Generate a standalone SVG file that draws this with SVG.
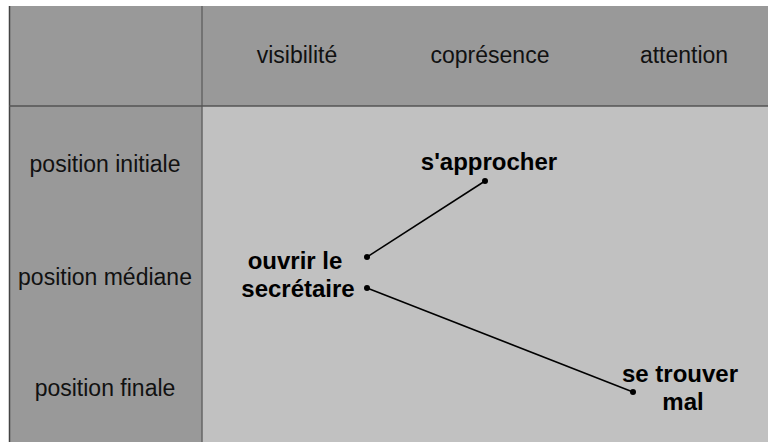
<svg xmlns="http://www.w3.org/2000/svg" width="768" height="442" viewBox="0 0 768 442">
<style>
.hdr{font-family:"Liberation Sans",Arial,sans-serif;font-size:23px;fill:#111;text-anchor:middle}
.node{font-family:"Liberation Sans",Arial,sans-serif;font-size:24px;font-weight:bold;fill:#000;text-anchor:middle}
.conn{stroke:#000;stroke-width:1.5;fill:none}
.dot{fill:#000}
</style>
<rect x="0" y="0" width="768" height="442" fill="#fff"/>
<g id="grid">
<rect x="9" y="6" width="759" height="436" fill="#999999"/>
<rect x="202" y="106" width="566" height="336" fill="#c1c1c1"/>
<line x1="9.5" y1="6" x2="9.5" y2="442" stroke="#444" stroke-width="1.5"/>
<line x1="202" y1="6" x2="202" y2="442" stroke="#666" stroke-width="1.5"/>
<line x1="9" y1="106" x2="768" y2="106" stroke="#555" stroke-width="1.5"/>
</g>
<g id="headers">
<text class="hdr" x="297" y="63">visibilité</text>
<text class="hdr" x="490" y="63">coprésence</text>
<text class="hdr" x="684" y="63">attention</text>
<text class="hdr" x="105" y="172">position initiale</text>
<text class="hdr" x="105" y="285">position médiane</text>
<text class="hdr" x="105" y="396">position finale</text>
</g>
<g id="connectors">
<line class="conn" x1="485" y1="181" x2="367" y2="257"/>
<line class="conn" x1="367" y1="288" x2="633" y2="392"/>
<circle class="dot" cx="485" cy="181" r="3"/>
<circle class="dot" cx="367" cy="257" r="3"/>
<circle class="dot" cx="367" cy="288" r="3"/>
<circle class="dot" cx="633" cy="392" r="3"/>
</g>
<g id="node-sapprocher">
<text class="node" x="489" y="170">s'approcher</text>
</g>
<g id="node-ouvrir">
<text class="node" x="295" y="269">ouvrir le</text>
<text class="node" x="298" y="297">secrétaire</text>
</g>
<g id="node-setrouver">
<text class="node" x="680" y="382">se trouver</text>
<text class="node" x="683" y="410">mal</text>
</g>
</svg>
